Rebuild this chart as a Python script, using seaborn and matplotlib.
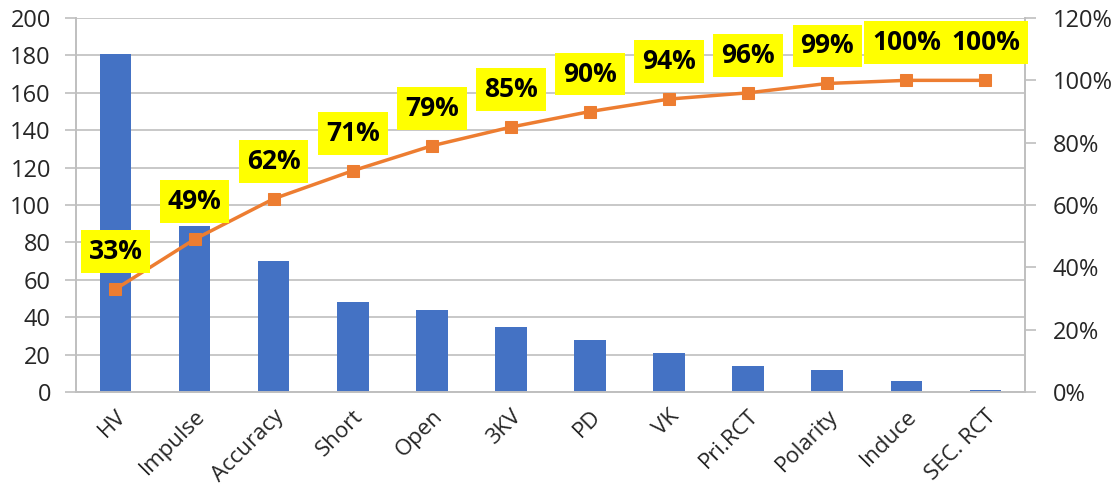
import seaborn as sns
import matplotlib.pyplot as plt
from matplotlib.ticker import PercentFormatter

# data
categories = ['HV', 'Impulse', 'Accuracy', 'Short', 'Open', '3KV', 'PD', 'VK',
              'Pri.RCT', 'Polarity', 'Induce', 'SEC. RCT']
counts = [181, 89, 70, 48, 44, 35, 28, 21, 14, 12, 6, 1]
cum_pct = [33, 49, 62, 71, 79, 85, 90, 94, 96, 99, 100, 100]

sns.set_style('white')
plt.rcParams['font.family'] = ['Open Sans', 'DejaVu Sans']

fig, ax = plt.subplots(figsize=(11.16, 4.95), dpi=100)
fig.subplots_adjust(left=0.068, right=0.9185, top=0.9636, bottom=0.208)

grid_c = '#BFBFBF'

# bars
sns.barplot(x=categories, y=counts, color='#4472C4', width=0.4, saturation=1,
            linewidth=0, ax=ax)
ax.set_ylim(0, 200)
ax.set_yticks(range(0, 201, 20))
ax.set_xlim(-0.5, len(categories) - 0.5)
ax.yaxis.grid(True, color=grid_c, linewidth=1.2)
ax.set_axisbelow(True)
ax.set_xticks([i + 0.5 for i in range(-1, len(categories))], minor=True)
ax.set_xticks(range(len(categories)))
ax.set_xticklabels(categories, rotation=45, ha='right', rotation_mode='anchor')
ax.tick_params(axis='x', which='major', length=0, labelsize=16, pad=10)
ax.tick_params(axis='x', which='minor', length=8, color=grid_c, width=1.2)
ax.tick_params(axis='y', length=8, color=grid_c, width=1.2, labelsize=17, left=True, pad=10)

# cumulative line
ax2 = ax.twinx()
sns.lineplot(x=list(range(len(categories))), y=[p / 100 for p in cum_pct], ax=ax2,
             color='#ED7D31', linewidth=2.5, marker='s', markersize=9,
             markeredgecolor='#ED7D31')
ax2.set_ylim(0, 1.2)
ax2.set_yticks([0, 0.2, 0.4, 0.6, 0.8, 1.0, 1.2])
ax2.yaxis.set_major_formatter(PercentFormatter(1.0, decimals=0))
ax2.tick_params(axis='y', length=8, color=grid_c, width=1.2, labelsize=17, right=True, pad=12)

for i, p in enumerate(cum_pct):
    ax2.annotate(f'{p}%', (i, p / 100), xytext=(0, 27), textcoords='offset points',
                 ha='center', va='center', fontsize=19, fontweight='bold', color='black',
                 bbox=dict(boxstyle='square,pad=0.3', fc='#FFFF00', ec='none'))

for a in (ax, ax2):
    for s in ('left', 'right', 'bottom'):
        a.spines[s].set_color(grid_c)
        a.spines[s].set_linewidth(1.2)
    a.spines['top'].set_visible(False)
    a.set_xlabel('')
    a.set_ylabel('')

plt.savefig('out.png', dpi=100)
